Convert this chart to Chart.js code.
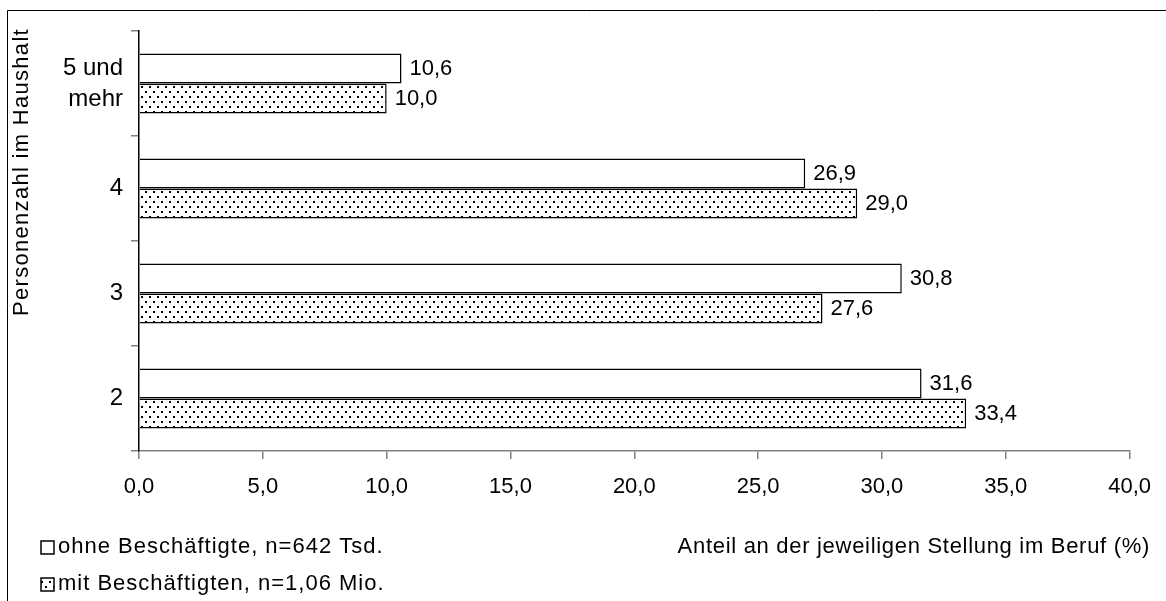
<!DOCTYPE html>
<html>
<head>
<meta charset="utf-8">
<script src="https://cdn.jsdelivr.net/npm/chart.js@4.4.1/dist/chart.umd.min.js"></script>
<style>
    html, body { margin: 0; padding: 0; background: #fff; }
    #wrapper { width: 1166px; height: 601px; }
</style>
</head>
<body>
<div id="wrapper"><canvas id="grafico" width="1166" height="601"></canvas></div>
<script>
"use strict"

// dati
const categorie = [["5 und", "mehr"], "4", "3", "2"];
const ohneBeschaeftigte = [10.6, 26.9, 30.8, 31.6];
const mitBeschaeftigten = [10.0, 29.0, 27.6, 33.4];
const etichette = ["ohne Beschäftigte, n=642 Tsd.", "mit Beschäftigten, n=1,06 Mio."];
const tickX = [0, 5, 10, 15, 20, 25, 30, 35, 40];
const titoloY = "Personenzahl im Haushalt";
const titoloX = "Anteil an der jeweiligen Stellung im Beruf (%)";

const FONT = "'Liberation Sans', Arial, sans-serif";
const SIZE = 22;

function formatta(v) {
    return v.toFixed(1).replace(".", ",");
}

function creaPattern() {
    let c = document.createElement("canvas");
    c.width = 8;
    c.height = 10;
    let g = c.getContext("2d");
    g.fillStyle = "#fff";
    g.fillRect(0, 0, 8, 10);
    g.fillStyle = "#000";
    g.fillRect(1, 1, 2, 2);
    g.fillRect(5, 6, 2, 2);
    return g.createPattern(c, "repeat");
}

window.onload = function () {
    let canvas = document.getElementById("grafico");
    let ctx = canvas.getContext("2d");
    // il testo originale è un po' "largo"
    ctx.letterSpacing = "0.5px";
    let puntini = creaPattern();

    let extra = {
        id: "extra",
        afterDatasetsDraw(chart) {
            let c = chart.ctx;
            c.save();
            c.font = SIZE + "px " + FONT;
            c.fillStyle = "#000";
            c.textBaseline = "middle";
            c.textAlign = "left";
            c.letterSpacing = "0px";
            // valori accanto alle barre
            chart.data.datasets.forEach(function (ds, i) {
                let meta = chart.getDatasetMeta(i);
                meta.data.forEach(function (bar, j) {
                    c.fillText(formatta(ds.data[j]), bar.x + 8, bar.y);
                });
            });

            c.letterSpacing = "1.3px";
            // titolo asse y
            c.save();
            c.translate(22, 172);
            c.rotate(-Math.PI / 2);
            c.textAlign = "center";
            c.fillText(titoloY, 0, 0);
            c.restore();

            // titolo asse x
            c.letterSpacing = "0.7px";
            c.textAlign = "right";
            c.fillText(titoloX, 1150, 547);

            // legenda
            c.letterSpacing = "1px";
            c.textAlign = "left";
            let righe = [547, 584];
            let fills = ["#fff", puntini];
            for (let i = 0; i < etichette.length; i++) {
                c.fillStyle = fills[i];
                c.fillRect(41, righe[i] - 6, 13, 13);
                c.strokeStyle = "#000";
                c.lineWidth = 1.5;
                c.strokeRect(41, righe[i] - 6, 13, 13);
                c.fillStyle = "#000";
                c.fillText(etichette[i], 58, righe[i]);
            }

            // cornice
            c.strokeStyle = "#000";
            c.lineWidth = 1;
            c.beginPath();
            c.moveTo(7.5, 601);
            c.lineTo(7.5, 10.5);
            c.lineTo(1166, 10.5);
            c.stroke();
            c.restore();
        }
    };

    new Chart(ctx, {
        type: "bar",
        data: {
            labels: categorie,
            datasets: [{
                label: etichette[0],
                data: ohneBeschaeftigte,
                backgroundColor: "#fff",
                borderColor: "#000",
                borderWidth: 1.5,
                categoryPercentage: 0.572,
                barPercentage: 1
            }, {
                label: etichette[1],
                data: mitBeschaeftigten,
                backgroundColor: puntini,
                borderColor: "#000",
                borderWidth: 1.5,
                categoryPercentage: 0.572,
                barPercentage: 1
            }]
        },
        options: {
            indexAxis: "y",
            responsive: false,
            animation: false,
            layout: { padding: { top: 31, right: 35, left: 0, bottom: 0 } },
            plugins: {
                legend: { display: false },
                tooltip: { enabled: false }
            },
            scales: {
                x: {
                    min: tickX[0],
                    max: tickX[tickX.length - 1],
                    afterBuildTicks: function (scale) {
                        scale.ticks = tickX.map(v => ({ value: v }));
                    },
                    afterFit: function (scale) { scale.height = 150; },
                    ticks: {
                        color: "#000",
                        padding: 15,
                        maxRotation: 0,
                        font: { family: FONT, size: SIZE },
                        callback: v => formatta(v)
                    },
                    grid: {
                        drawOnChartArea: false,
                        tickLength: 8,
                        color: "#808080",
                        lineWidth: 1.5
                    },
                    border: { color: "#808080", width: 1.5 }
                },
                y: {
                    afterFit: function (scale) { scale.width = 139; },
                    ticks: {
                        color: "#000",
                        padding: 8,
                        font: { family: FONT, size: 24, lineHeight: 1.29 }
                    },
                    grid: {
                        offset: true,
                        drawOnChartArea: false,
                        tickLength: 8,
                        color: "#808080",
                        lineWidth: 1.5
                    },
                    border: { color: "#000", width: 1.5 }
                }
            }
        },
        plugins: [extra]
    });
}
</script>
</body>
</html>
